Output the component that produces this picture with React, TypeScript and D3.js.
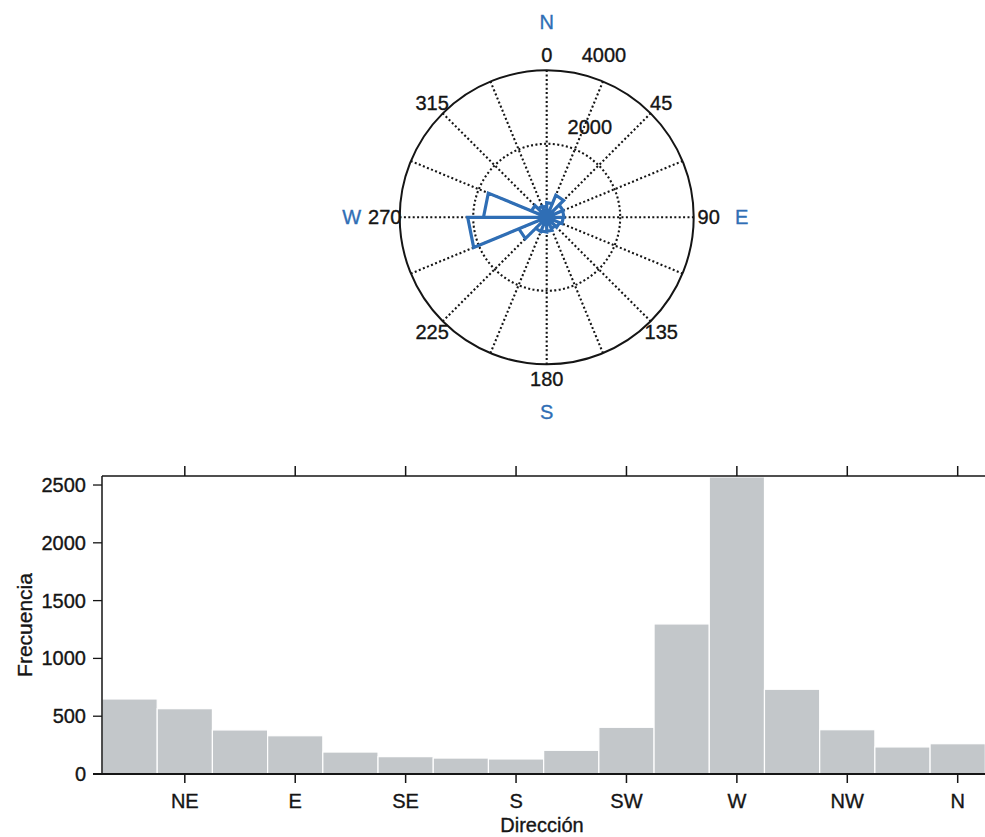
import React from "react";
import * as d3 from "d3";

// ---- Wind rose (counts per 22.5° sector, compass degrees) ----
const roseSectorStart = [0, 22.5, 45, 67.5, 90, 112.5, 135, 157.5, 180, 202.5, 225, 247.5, 270, 292.5, 315, 337.5];
const roseCounts = [400, 650, 480, 470, 450, 380, 330, 380, 400, 420, 820, 2150, 1720, 450, 330, 300];
const roseAngleTicks = [0, 45, 90, 135, 180, 225, 270, 315];
const roseRadiusTicks = [2000, 4000];
const compassAngles = [0, 90, 180, 270];
const compassNames = ["N", "E", "S", "W"];

// ---- Histogram of directions ----
const directionCenters = [22.5, 45, 67.5, 90, 112.5, 135, 157.5, 180, 202.5, 225, 247.5, 270, 292.5, 315, 337.5, 360];
const frequencies = [649, 565, 381, 331, 190, 150, 138, 130, 205, 404, 1298, 2570, 733, 383, 234, 262];
const directionTicks = [45, 90, 135, 180, 225, 270, 315, 360];
const directionNames = ["NE", "E", "SE", "S", "SW", "W", "NW", "N"];
const frequencyTicks = [0, 500, 1000, 1500, 2000, 2500];

const W = 985;
const H = 837;
const FONT = "'Liberation Sans', Arial, Helvetica, sans-serif";
const BLUE = "#2f6eb5";
const INK = "#151515";
const BIN = 22.5;

// light outline thickens the glyphs a touch
const textInk = { stroke: INK, strokeWidth: 0.35 };

function WindRose() {
  const cx = 546.7;
  const cy = 217.3;
  const R = 147;
  const r = d3.scaleLinear().domain([0, 4000]).range([0, R]);
  const rad = (deg: number) => (deg * Math.PI) / 180;
  const pt = (deg: number, radius: number) => d3.pointRadial(rad(deg), radius);

  const spokes = d3.range(0, 360, BIN);

  const petals = d3.path();
  roseSectorStart.forEach((a0, i) => {
    const rr = r(roseCounts[i]);
    const [x1, y1] = pt(a0, rr);
    const [x2, y2] = pt(a0 + BIN, rr);
    petals.moveTo(0, 0);
    petals.lineTo(x1, y1);
    petals.lineTo(x2, y2);
    petals.closePath();
  });

  return (
    <g transform={`translate(${cx},${cy})`} fontFamily={FONT} fontSize={20}>
      {spokes.map((a) => {
        const [x, y] = pt(a, R);
        return (
          <line key={a} x1={0} y1={0} x2={x} y2={y} stroke={INK} strokeWidth={2.1} strokeDasharray="2 2.4" />
        );
      })}
      <circle r={r(2000)} fill="none" stroke={INK} strokeWidth={2.1} strokeDasharray="2 2.4" />
      <circle r={R} fill="none" stroke={INK} strokeWidth={2} />
      <path d={petals.toString()} fill="none" stroke={BLUE} strokeWidth={3.2} strokeLinejoin="miter" />
      {roseAngleTicks.map((a) => {
        const [x, y] = pt(a, 162);
        return (
          <text key={a} x={x} y={y} textAnchor="middle" dominantBaseline="central" fill={INK} {...textInk}>
            {a}
          </text>
        );
      })}
      {roseRadiusTicks.map((v) => {
        const [x, y] = pt(11, r(v + 200));
        return (
          <text key={v} x={x + 5.5} y={y - 4} textAnchor="start" fill={INK} {...textInk}>
            {v}
          </text>
        );
      })}
      {compassAngles.map((a, i) => {
        const [x, y] = pt(a, 195);
        return (
          <text
            key={a}
            x={x}
            y={y}
            textAnchor="middle"
            dominantBaseline="central"
            fill={BLUE}
            stroke={BLUE}
            strokeWidth={0.35}
          >
            {compassNames[i]}
          </text>
        );
      })}
    </g>
  );
}

function DirectionHistogram() {
  const left = 102;
  const right = 985.3;
  const top = 476;
  const bottom = 774;
  const x = d3.scaleLinear().domain([11.25, 371.25]).range([left, right]);
  const y = d3.scaleLinear().domain([0, 2578]).range([bottom, top]);

  return (
    <g fontFamily={FONT} fontSize={20} fill={INK}>
      <defs>
        <clipPath id="plot-area">
          <rect x={left} y={top} width={right - left} height={bottom - top} />
        </clipPath>
      </defs>
      <g clipPath="url(#plot-area)">
        {directionCenters.map((c, i) => (
          <rect
            key={c}
            x={x(c - BIN / 2)}
            y={y(frequencies[i])}
            width={x(c + BIN / 2) - x(c - BIN / 2)}
            height={bottom - y(frequencies[i])}
            fill="#c3c7ca"
            stroke="#ffffff"
            strokeWidth={1.2}
          />
        ))}
      </g>
      {/* frame */}
      <line x1={left} y1={top} x2={left} y2={bottom} stroke={INK} strokeWidth={1.5} />
      <line x1={left - 9} y1={bottom} x2={W} y2={bottom} stroke={INK} strokeWidth={1.8} />
      <line x1={left} y1={top} x2={W} y2={top} stroke={INK} strokeWidth={1.5} />
      {/* y axis */}
      {frequencyTicks.map((t) => (
        <g key={t}>
          <line x1={left - 9} y1={y(t)} x2={left} y2={y(t)} stroke={INK} strokeWidth={1.3} />
          <text x={86} y={y(t)} textAnchor="end" dominantBaseline="central" {...textInk}>
            {t}
          </text>
        </g>
      ))}
      <text transform={`translate(32,625) rotate(-90)`} textAnchor="middle" fontSize={21} {...textInk}>
        Frecuencia
      </text>
      {/* x axis (bottom and top) */}
      {directionTicks.map((t, i) => (
        <g key={t}>
          <line x1={x(t)} y1={bottom} x2={x(t)} y2={bottom + 9} stroke={INK} strokeWidth={1.5} />
          <line x1={x(t)} y1={top - 10} x2={x(t)} y2={top} stroke={INK} strokeWidth={1.5} />
          <text x={x(t)} y={808} textAnchor="middle" {...textInk}>
            {directionNames[i]}
          </text>
        </g>
      ))}
      <text x={(left + 982) / 2} y={832} textAnchor="middle" fontSize={20} {...textInk}>
        Dirección
      </text>
    </g>
  );
}

export default function App() {
  return (
    <svg
      width={W}
      height={H}
      viewBox={`0 0 ${W} ${H}`}
      style={{ position: "absolute", left: 0, top: 0, background: "#fff", display: "block" }}
    >
      <rect width={W} height={H} fill="#fff" />
      <WindRose />
      <DirectionHistogram />
    </svg>
  );
}
